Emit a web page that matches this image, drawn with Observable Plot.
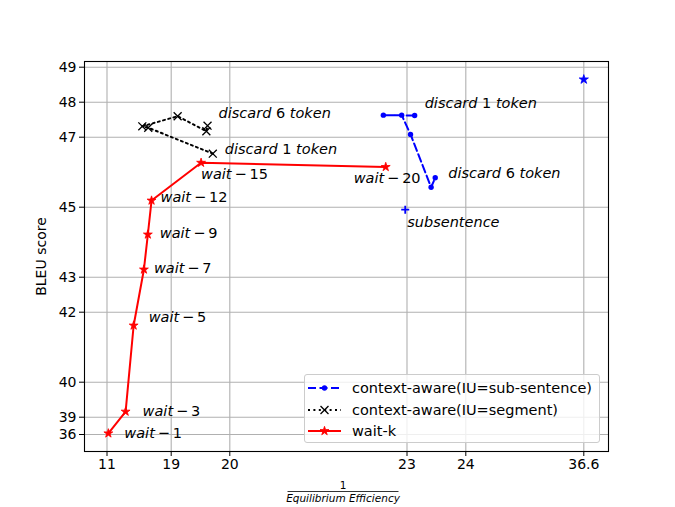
<!DOCTYPE html>
<html>
<head>
<meta charset="utf-8">
<script src="https://cdn.jsdelivr.net/npm/d3@7"></script>
<script src="https://cdn.jsdelivr.net/npm/@observablehq/plot@0.6"></script>
<style>
  body { margin: 0; background: #fff; }
  #wrap { position: relative; width: 675px; height: 507px; font-family: "DejaVu Sans"; overflow: hidden; }
  #wrap > svg.chart { position: absolute; left: 0; top: 0; }
  #legend { position: absolute; left: 304px; top: 374px; width: 294px; height: 67px;
            border: 1px solid #cccccc; border-radius: 3px; background: rgba(255,255,255,0.8); }
  .lg-row { position: absolute; left: 0; width: 290px; height: 20px; }
  .lg-row svg { position: absolute; left: 2px; top: 0; }
  .lg-row span { position: absolute; left: 47px; top: 1px; font-size: 14.5px; line-height: 18px; white-space: nowrap; color: #000; }
  #xlabel { position: absolute; left: 0; top: 0; }
</style>
</head>
<body>
<div id="wrap"></div>
<script>
// ---- data ----
const xTicks = [11, 19, 20, 23, 24, 36.6];
const yTicks = [36, 39, 40, 42, 43, 45, 47, 48, 49];

const waitLabels = ["wait\u2009\u2212\u20091", "wait\u2009\u2212\u20093", "wait\u2009\u2212\u20095", "wait\u2009\u2212\u20097",
                    "wait\u2009\u2212\u20099", "wait\u2009\u2212\u200912", "wait\u2009\u2212\u200915", "wait\u2009\u2212\u200920"];
const waitX = [11.17, 13.32, 14.32, 15.60, 16.09, 16.55, 19.51, 22.64];
const waitY = [36.2, 39.16, 41.62, 43.22, 44.22, 45.19, 46.27, 46.15];

const segX = [19.71, 16.14, 15.40, 19.11, 19.60, 19.62];
const segY = [46.53, 47.27, 47.31, 47.60, 47.17, 47.33];

const subX = [23.13, 22.60, 22.91, 23.06, 23.41, 23.48];
const subY = [47.62, 47.63, 47.63, 47.08, 45.57, 45.84];

const subsentenceX = [22.97];
const subsentenceY = [44.93];
const fullX = [36.6];
const fullY = [48.65];

const seriesNames = ["context-aware(IU=sub-sentence)", "context-aware(IU=segment)", "wait-k"];
const discardLabels = ["discard 1 token", "discard 6 token"];
const subsentenceLabel = "subsentence";

// ---- tables ----
const waitData = waitX.map((x, i) => ({x, y: waitY[i], label: waitLabels[i]}));
const segData = segX.map((x, i) => ({x, y: segY[i]}));
const subData = subX.map((x, i) => ({x, y: subY[i]}));
const subsData = subsentenceX.map((x, i) => ({x, y: subsentenceY[i], label: subsentenceLabel}));
const fullData = fullX.map((x, i) => ({x, y: fullY[i]}));

// annotation placement (offsets in px relative to the annotated point)
const waitOffsets = [[16, 0], [17, 0], [15, -8], [10, -1], [12, -1], [9, -3], [0, 12], [-32, 11]];
const annotMarks = [];
const txt = (d, dx, dy) => Plot.text([d], {x: "x", y: "y", text: "label", dx, dy, textAnchor: "start",
  fontSize: 14.5, fill: "black", ariaLabel: "annot"});
waitData.forEach((d, i) => annotMarks.push(txt(d, waitOffsets[i][0], waitOffsets[i][1])));
annotMarks.push(txt({...segData[5], label: discardLabels[1]}, 11, -12));
annotMarks.push(txt({...segData[0], label: discardLabels[0]}, 12, -4));
annotMarks.push(txt({...subData[0], label: discardLabels[0]}, 10, -12));
annotMarks.push(txt({...subData[5], label: discardLabels[1]}, 13, -4));
annotMarks.push(txt(subsData[0], 2, 13));

const gridStyle = {stroke: "#b0b0b0", strokeOpacity: 1, strokeWidth: 1.1};

const chart = Plot.plot({
  width: 675, height: 507,
  marginLeft: 84, marginRight: 67, marginTop: 61, marginBottom: 56,
  style: {fontFamily: "DejaVu Sans", fontSize: "14px", background: "transparent", overflow: "visible"},
  x: {type: "linear", domain: xTicks, range: [106.5, 170.7, 229.3, 406.5, 465.3, 583.3]},
  y: {type: "linear", domain: yTicks, range: [434, 416.7, 381.7, 311.7, 276.7, 206.7, 136.7, 101.7, 66.7]},
  marks: [
    Plot.gridX(xTicks, gridStyle),
    Plot.gridY(yTicks, gridStyle),
    Plot.line(subData, {x: "x", y: "y", stroke: "#0000ff", strokeWidth: 2, strokeDasharray: "8,3.5"}),
    Plot.dot(subData, {x: "x", y: "y", symbol: "circle", r: 2.7, fill: "#0000ff"}),
    Plot.line(segData, {x: "x", y: "y", stroke: "black", strokeWidth: 2, strokeDasharray: "2,3.4"}),
    Plot.dot(segData, {x: "x", y: "y", symbol: "times", r: 3.7, stroke: "black", strokeWidth: 1.3}),
    Plot.line(waitData, {x: "x", y: "y", stroke: "#ff0000", strokeWidth: 2}),
    Plot.dot(waitData, {x: "x", y: "y", symbol: "star", r: 2.8, fill: "#ff0000", stroke: "#ff0000", strokeWidth: 0.8}),
    Plot.dot(subsData, {x: "x", y: "y", symbol: "plus", r: 2.7, stroke: "#0000ff", strokeWidth: 1.8}),
    Plot.dot(fullData, {x: "x", y: "y", symbol: "star", r: 2.9, fill: "#0000ff", stroke: "#0000ff", strokeWidth: 0.8}),
    ...annotMarks,
    Plot.frame({stroke: "black", strokeWidth: 1.1}),
    Plot.axisX(xTicks, {tickSize: 5, tickPadding: 3, fontSize: 14, label: null, tickFormat: d => String(d)}),
    Plot.axisY(yTicks, {tickSize: 5, tickPadding: 3, fontSize: 14, tickFormat: d => String(d),
      label: "BLEU score", labelAnchor: "center", labelArrow: "none", labelOffset: 48})
  ]
});
chart.classList.add("chart");

// mathtext-like styling: letters italic, digits / minus upright
const annotTexts = new Set([
  ...chart.querySelectorAll('g[aria-label="annot"] text'),
  ...chart.querySelectorAll('text[aria-label="annot"]')
]);
const labelSet = new Set([...waitLabels, ...discardLabels, subsentenceLabel]);
chart.querySelectorAll("text").forEach(t => { if (labelSet.has(t.textContent)) annotTexts.add(t); });
annotTexts.forEach(t => {
  const s = t.textContent;
  while (t.firstChild) t.removeChild(t.firstChild);
  s.split(/([A-Za-z]+)/).forEach(part => {
    if (!part) return;
    const ts = document.createElementNS("http://www.w3.org/2000/svg", "tspan");
    if (/[A-Za-z]/.test(part)) ts.setAttribute("font-style", "italic");
    ts.textContent = part;
    t.appendChild(ts);
  });
});

const wrap = document.getElementById("wrap");
wrap.appendChild(chart);

// x-axis label as a fraction
const xl = d3.create("svg").attr("id", "xlabel").attr("width", 675).attr("height", 507)
  .style("position", "absolute").style("left", 0).style("top", 0).style("pointer-events", "none");
const xg = xl.append("g").attr("font-family", "DejaVu Sans").attr("font-size", 10.5).attr("text-anchor", "middle");
xg.append("text").attr("x", 343).attr("y", 489).text("1");
xg.append("line").attr("x1", 287.5).attr("x2", 398.5).attr("y1", 491.5).attr("y2", 491.5)
  .attr("stroke", "black").attr("stroke-width", 0.8);
xg.append("text").attr("x", 343).attr("y", 501.5).attr("font-style", "italic").text("Equilibrium Efficiency");
wrap.appendChild(xl.node());

// legend
const legend = document.createElement("div");
legend.id = "legend";
const styles = [
  {stroke: "#0000ff", dash: "8,3.5", symbol: d3.symbolCircle, r: 2.7, fill: "#0000ff", sw: 0},
  {stroke: "black", dash: "2,3.4", symbol: d3.symbolTimes, r: 3.7, fill: "none", sw: 1.3},
  {stroke: "#ff0000", dash: null, symbol: d3.symbolStar, r: 2.8, fill: "#ff0000", sw: 0.8}
];
const rowTops = [2.5, 25, 45.5];
seriesNames.forEach((name, i) => {
  const row = document.createElement("div");
  row.className = "lg-row";
  row.style.top = rowTops[i] + "px";
  const s = styles[i];
  const sv = d3.create("svg").attr("width", 36).attr("height", 20);
  const ln = sv.append("line").attr("x1", 1).attr("x2", 34).attr("y1", 10).attr("y2", 10)
    .attr("stroke", s.stroke).attr("stroke-width", 2);
  if (s.dash) ln.attr("stroke-dasharray", s.dash);
  sv.append("path").attr("transform", "translate(17.5,10)")
    .attr("d", d3.symbol(s.symbol, Math.PI * s.r * s.r)())
    .attr("fill", s.fill).attr("stroke", s.stroke)
    .attr("stroke-width", s.sw);
  row.appendChild(sv.node());
  const sp = document.createElement("span");
  sp.textContent = name;
  row.appendChild(sp);
  legend.appendChild(row);
});
wrap.appendChild(legend);
</script>
</body>
</html>
